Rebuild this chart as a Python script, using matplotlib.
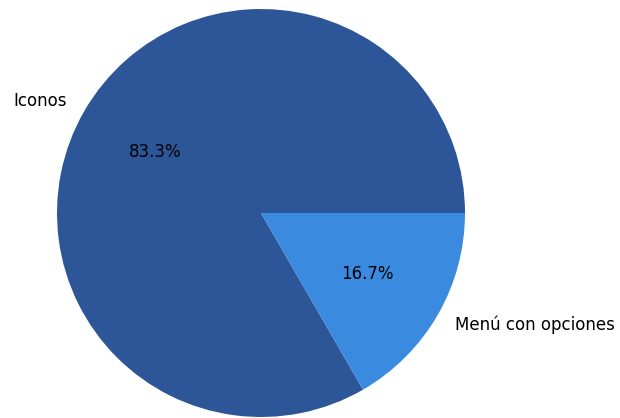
import matplotlib
matplotlib.use('Agg')
import matplotlib.pyplot as plt

# Datos del gráfico
etiquetas = ['Iconos', 'Menú con opciones']
valores = [5, 1]
colores = ['#2c5697', '#3a8ae0']

fig = plt.figure(figsize=(6.2, 4.18), dpi=100)
# Ejes colocados para que el círculo ocupe el mismo sitio que en la referencia
cx, cy, r = 261, 213, 204
ax = fig.add_axes([(cx - r) / 620, (418 - cy - r) / 418, 2 * r / 620, 2 * r / 418])

ax.pie(valores, labels=etiquetas, colors=colores, autopct='%1.1f%%',
       textprops={'fontsize': 12})
ax.set_xlim(-1, 1)
ax.set_ylim(-1, 1)
ax.set_aspect('auto')

plt.savefig('out.png', dpi=100)
